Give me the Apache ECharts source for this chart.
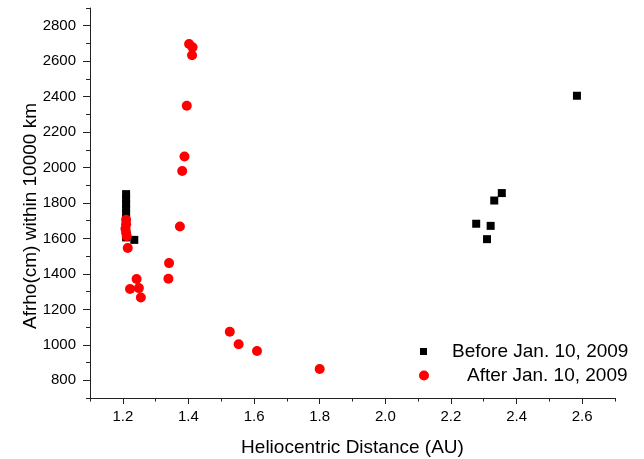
<!DOCTYPE html>
<html>
<head>
<meta charset="utf-8">
<script src="https://cdn.jsdelivr.net/npm/echarts@6/dist/echarts.min.js"></script>
<style>
    html, body {margin: 0; padding: 0; background: #fff;}
    #afrhoChart {width: 644px; height: 459px;}
</style>
</head>
<body>
<div id="afrhoChart"></div>
<script>
const beforeX = [1.21, 1.21, 1.21, 1.21, 1.21, 1.21, 1.21, 1.21, 1.21, 1.21, 1.235, 2.277, 2.310, 2.321, 2.332, 2.355, 2.584];
const beforeY = [1850, 1822, 1795, 1768, 1741, 1714, 1687, 1660, 1633, 1606, 1592, 1683, 1596, 1671, 1814, 1856, 2405];

const afterX = [1.21, 1.21, 1.208, 1.21, 1.212, 1.215, 1.222, 1.242, 1.249, 1.255, 1.339, 1.341, 1.374, 1.381, 1.388, 1.395, 1.402, 1.4125, 1.411, 1.526, 1.553, 1.609, 1.80];
const afterY = [1706, 1680, 1655, 1632, 1612, 1546, 1315, 1371, 1320, 1267, 1373, 1461, 1667, 1981, 2062, 2349, 2697, 2678, 2633, 1074, 1003, 965, 864];

const xMajorTicks = [1.2, 1.4, 1.6, 1.8, 2.0, 2.2, 2.4, 2.6];
const xMinorTicks = [1.1, 1.3, 1.5, 1.7, 1.9, 2.1, 2.3, 2.5, 2.7];
const yMajorTicks = [800, 1000, 1200, 1400, 1600, 1800, 2000, 2200, 2400, 2600, 2800];
const yMinorTicks = [700, 900, 1100, 1300, 1500, 1700, 1900, 2100, 2300, 2500, 2700, 2900];

const beforeName = 'Before Jan. 10, 2009';
const afterName = 'After Jan. 10, 2009';

function drawAfrhoChart() {
    const myChart = echarts.init(document.getElementById('afrhoChart'));
    const font = 'Liberation Sans';
    const axisColor = '#222';

    const beforeData = beforeX.map(function (x, i) {
        return [x, beforeY[i]];
    });
    const afterData = afterX.map(function (x, i) {
        return [x, afterY[i]];
    });

    const option = {
        backgroundColor: '#ffffff',
        animation: false,
        textStyle: {fontFamily: font},
        grid: {
            left: 90,
            right: 29,
            top: 8,
            bottom: 61,
            outerBoundsMode: 'none'
        },
        legend: [
            {
                left: 420,
                top: 342,
                padding: 0,
                itemWidth: 7,
                itemHeight: 7,
                data: [{name: beforeName, icon: 'rect'}],
                textStyle: {color: '#000', fontSize: 19, fontFamily: font, padding: [0, 0, 0, 20]}
            },
            {
                left: 419,
                top: 366,
                padding: 0,
                itemWidth: 10,
                itemHeight: 10,
                data: [{name: afterName, icon: 'circle'}],
                textStyle: {color: '#000', fontSize: 19, fontFamily: font, padding: [0, 0, 0, 33]}
            }
        ],
        xAxis: [
            {
                type: 'value',
                min: 1.1,
                max: 2.7,
                name: 'Heliocentric Distance (AU)',
                nameLocation: 'middle',
                nameGap: 40,
                nameTextStyle: {color: '#000', fontSize: 19, fontFamily: font},
                axisLine: {lineStyle: {color: axisColor, width: 1}},
                axisTick: {
                    show: true,
                    length: 6,
                    customValues: xMajorTicks,
                    lineStyle: {color: axisColor}
                },
                axisLabel: {
                    customValues: xMajorTicks,
                    margin: 11,
                    color: '#000',
                    fontSize: 15,
                    fontFamily: font,
                    formatter: function (value) {
                        return value.toFixed(1);
                    }
                },
                splitLine: {show: false}
            },
            {
                type: 'value',
                min: 1.1,
                max: 2.7,
                position: 'bottom',
                axisLine: {show: false},
                axisTick: {
                    show: true,
                    length: 3.5,
                    customValues: xMinorTicks,
                    lineStyle: {color: axisColor}
                },
                axisLabel: {show: false},
                splitLine: {show: false}
            }
        ],
        yAxis: [
            {
                type: 'value',
                min: 700,
                max: 2900,
                name: 'Afrho(cm) within 10000 km',
                nameLocation: 'middle',
                nameGap: 50,
                nameMoveOverlap: false,
                nameTextStyle: {color: '#000', fontSize: 19, fontFamily: font, padding: [0, 26, 0, 0]},
                axisLine: {show: true, lineStyle: {color: axisColor, width: 1}},
                axisTick: {
                    show: true,
                    length: 7,
                    customValues: yMajorTicks,
                    lineStyle: {color: axisColor}
                },
                axisLabel: {
                    customValues: yMajorTicks,
                    margin: 14,
                    color: '#000',
                    fontSize: 15,
                    fontFamily: font,
                    formatter: function (value) {
                        return String(value);
                    }
                },
                splitLine: {show: false}
            },
            {
                type: 'value',
                min: 700,
                max: 2900,
                position: 'left',
                axisLine: {show: false},
                axisTick: {
                    show: true,
                    length: 4,
                    customValues: yMinorTicks,
                    lineStyle: {color: axisColor}
                },
                axisLabel: {show: false},
                splitLine: {show: false}
            }
        ],
        series: [
            {
                name: beforeName,
                type: 'scatter',
                symbol: 'rect',
                symbolSize: 8,
                data: beforeData,
                itemStyle: {color: '#000000', opacity: 1}
            },
            {
                name: afterName,
                type: 'scatter',
                symbol: 'circle',
                symbolSize: 10,
                data: afterData,
                itemStyle: {color: '#ff0000', opacity: 1}
            }
        ]
    };
    myChart.setOption(option);
    window.onresize = myChart.resize;
}

drawAfrhoChart();
</script>
</body>
</html>
